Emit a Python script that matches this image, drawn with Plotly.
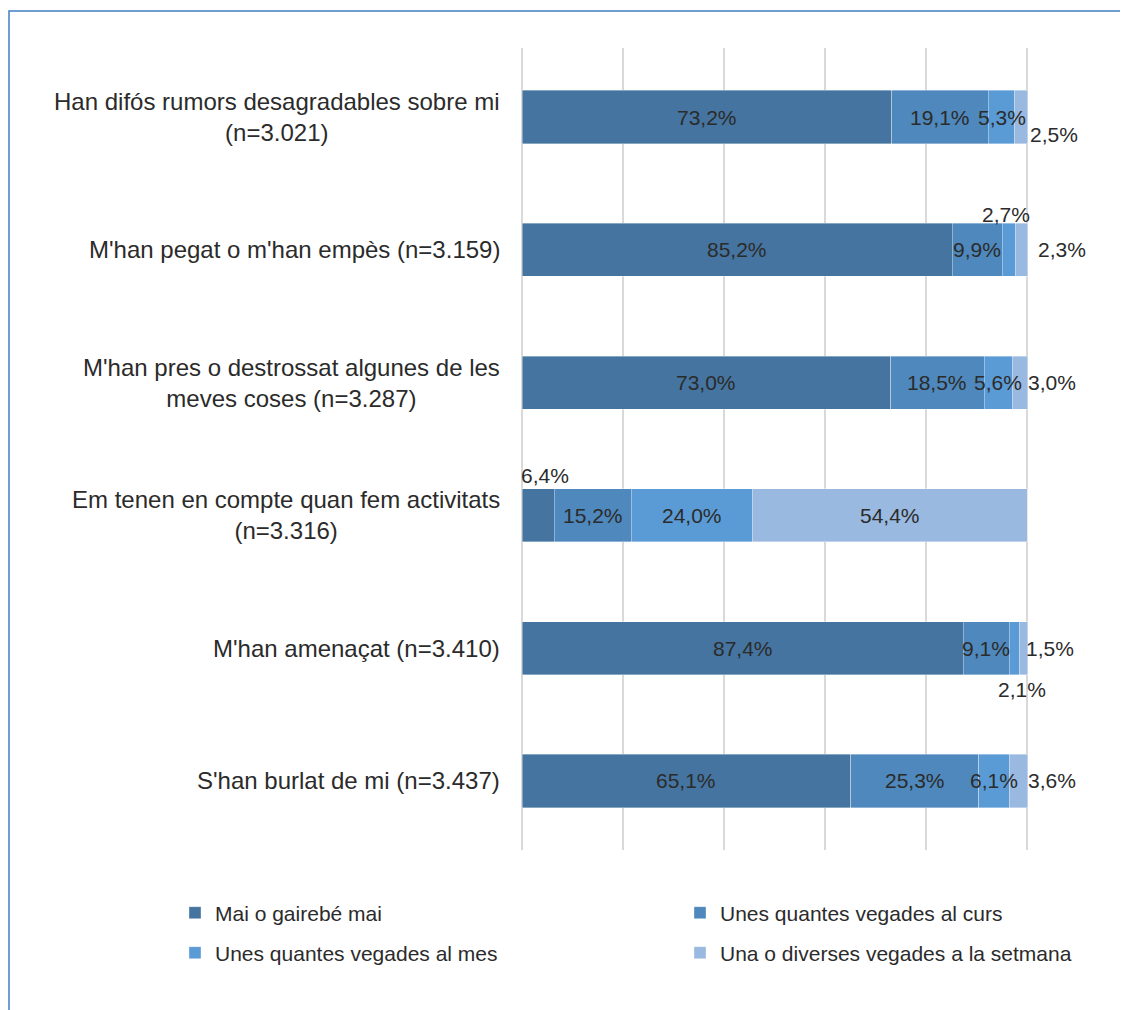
import plotly.graph_objects as go

# ---------------- data ----------------
categories = [
    "Han difós rumors desagradables sobre mi<br>(n=3.021)",
    "M'han pegat o m'han empès (n=3.159)",
    "M'han pres o destrossat algunes de les<br>meves coses (n=3.287)",
    "Em tenen en compte quan fem activitats<br>(n=3.316)",
    "M'han amenaçat (n=3.410)",
    "S'han burlat de mi (n=3.437)",
]
series_names = [
    "Mai o gairebé mai",
    "Unes quantes vegades al curs",
    "Unes quantes vegades al mes",
    "Una o diverses vegades a la setmana",
]
mai = [73.2, 85.2, 73.0, 6.4, 87.4, 65.1]
curs = [19.1, 9.9, 18.5, 15.2, 9.1, 25.3]
mes = [5.3, 2.7, 5.6, 24.0, 2.1, 6.1]
setmana = [2.5, 2.3, 3.0, 54.4, 1.5, 3.6]
series_values = [mai, curs, mes, setmana]

# ---------------- style ----------------
W, H = 1120, 1002
colors = ["#44749f", "#4e88bc", "#5a9bd5", "#99b9e0"]
text_color = "#2b2b2b"
font_family = "Liberation Sans, Arial, sans-serif"
label_size = 21
cat_size = 24
legend_size = 21
# manual label offsets (pixels) for labels placed outside their segment: (row, series) -> (dx, dy)
label_offsets = {
    (0, 3): (33, -17),
    (1, 2): (-3, 35),
    (1, 3): (40, 0),
    (2, 3): (32, 0),
    (3, 0): (7, 40),
    (4, 2): (7, -41),
    (4, 3): (26, 0),
    (5, 3): (34, 0),
}
# legend placement (container pixels, left x / center y)
legend_pos = [(167, 905), (672, 905), (167, 945), (672, 945)]

fig = go.Figure()
legend_ids = ["legend", "legend2", "legend3", "legend4"]
for i, (name, vals) in enumerate(zip(series_names, series_values)):
    fig.add_trace(go.Bar(
        y=categories, x=vals, orientation="h", name=name,
        marker=dict(color=colors[i], line=dict(color="rgba(255,255,255,0.6)", width=0.6)),
        legend=legend_ids[i], showlegend=True, hoverinfo="x+name",
    ))

# data labels
annotations = []
for r, cat in enumerate(categories):
    start = 0.0
    for s, vals in enumerate(series_values):
        v = vals[r]
        dx, dy = label_offsets.get((r, s), (0, 0))
        annotations.append(dict(
            x=start + v / 2, y=cat, xref="x", yref="y",
            text=f"{v:.1f}".replace(".", ",") + "%",
            showarrow=False, xshift=dx, yshift=dy,
            font=dict(size=label_size, color=text_color, family=font_family),
        ))
        start += v

# category labels (centered multi-line, right-aligned block)
for cat in categories:
    annotations.append(dict(
        x=0, y=cat, xref="paper", yref="y", text=cat, showarrow=False,
        xanchor="right", yanchor="middle", align="center", xshift=-20,
        font=dict(size=cat_size, color=text_color, family=font_family),
    ))

legends = {}
for lid, (lx, ly) in zip(legend_ids, legend_pos):
    legends[lid] = dict(
        orientation="h", xref="container", yref="container",
        x=lx / W, y=1 - ly / H, xanchor="left", yanchor="middle",
        font=dict(size=legend_size, color=text_color, family=font_family),
        bgcolor="rgba(0,0,0,0)", itemwidth=30, traceorder="normal", visible=True,
    )

fig.update_layout(
    width=W, height=H, showlegend=True,
    margin=dict(l=514, r=0, t=40, b=160),
    barmode="stack", bargap=0.6,
    plot_bgcolor="white", paper_bgcolor="white",
    font=dict(family=font_family, color=text_color),
    xaxis=dict(range=[0, 120], dtick=20, showgrid=True, gridcolor="#d9d9d9", gridwidth=1.5,
               zeroline=True, zerolinecolor="#d9d9d9", zerolinewidth=1.5,
               showticklabels=False, ticks="", showline=False, fixedrange=True),
    yaxis=dict(type="category", range=[5.52, -0.52], showticklabels=False, showgrid=False,
               zeroline=False, showline=False, ticks=""),
    annotations=annotations,
    shapes=[dict(type="rect", xref="paper", yref="paper",
                 x0=(1 - 514) / 606, x1=1.05, y0=-0.25, y1=(842 - 3) / 802,
                 line=dict(color="#3f7fc4", width=1.5), fillcolor="rgba(0,0,0,0)", layer="below")],
    **legends,
)

fig.write_html("out.html")
